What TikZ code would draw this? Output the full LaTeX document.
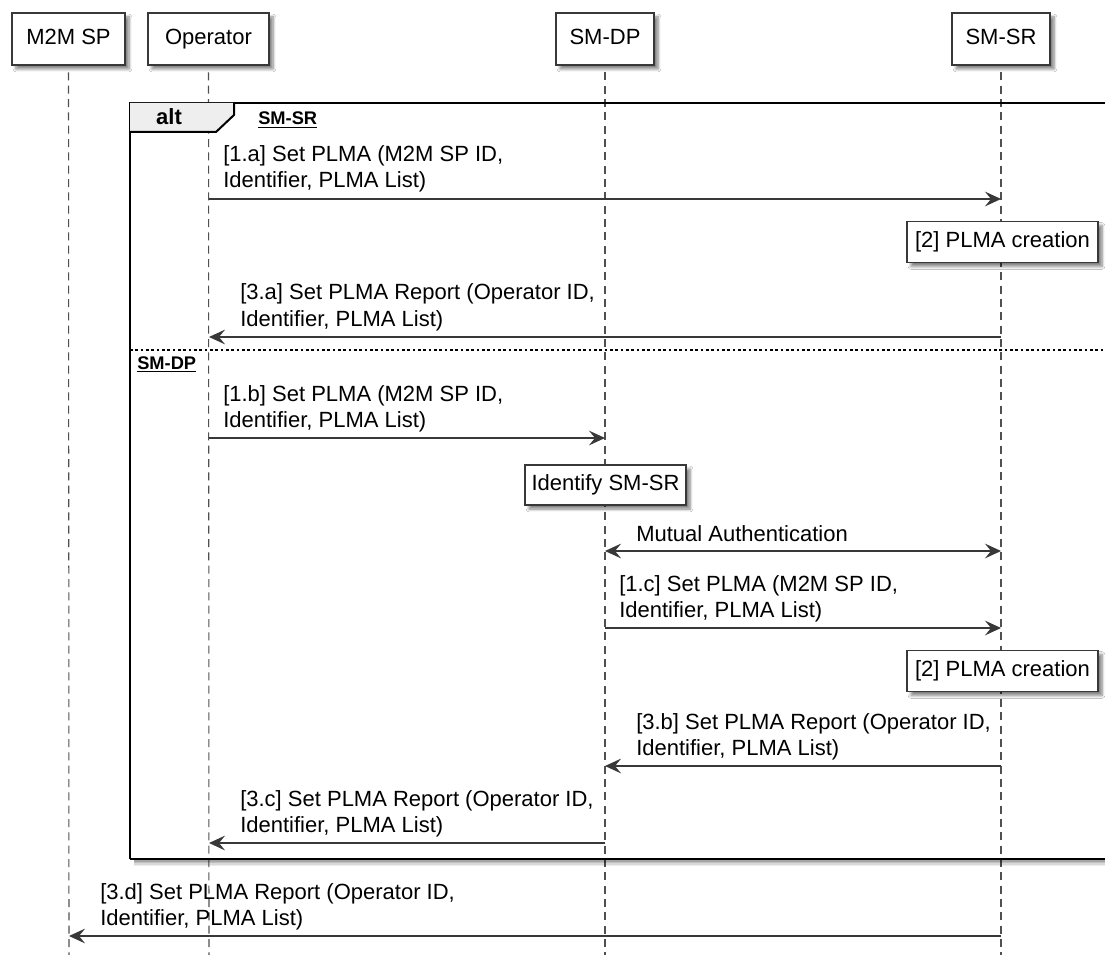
\documentclass[tikz,border=0pt]{standalone}
\usepackage{fontspec}
\setmainfont{Liberation Sans}
\usetikzlibrary{arrows.meta,shadows.blur}
\definecolor{linec}{HTML}{383838}
\definecolor{lifec}{HTML}{505050}
\definecolor{tabc}{HTML}{EEEEEE}
\tikzset{
  every node/.style={font=\fontsize{16.5}{19.5}\selectfont, inner sep=0pt},
  shadowed/.style={blur shadow={shadow xshift=3pt, shadow yshift=-3pt, shadow blur steps=6, shadow opacity=50}},
  partbox/.style={draw=linec, line width=1.1pt, fill=white, shadowed, minimum height=39pt, text height=11.8pt, text depth=3.6pt},
  notebox/.style={draw=linec, line width=0.9pt, fill=white, shadowed, text height=11.8pt, text depth=3.6pt},
  lifeline/.style={draw=lifec, line width=0.8pt, dash pattern=on 6pt off 4pt, shorten <=5pt},
  tipc/.tip={Stealth[length=12pt, width=11pt, inset=4.5pt, line join=miter]},
  msg/.style={draw=linec, line width=0.85pt, -tipc},
  bimsg/.style={draw=linec, line width=0.85pt, tipc-tipc},
  lbl/.style={anchor=base west, text=black},
  guard/.style={anchor=base west, font=\fontsize{13.7}{16}\selectfont\bfseries},
}
\begin{document}
\begin{tikzpicture}[x=0.75pt, y=-0.75pt]
\useasboundingbox (0,0) rectangle (1105,955);
\fill[white] (0,0) rectangle (1105,955);

% participants
\node[partbox, minimum width=84.75pt] (m2m) at (68.5,39) {M2M SP};
\node[partbox, minimum width=90.75pt] (op) at (208.5,39) {Operator};
\node[partbox, minimum width=73.5pt] (dp) at (605,39) {SM-DP};
\node[partbox, minimum width=73.5pt] (sr) at (1001,39) {SM-SR};

\coordinate (m2mEnd) at (69,955);
\coordinate (opEnd) at (209,955);
\coordinate (dpEnd) at (605,955);
\coordinate (srEnd) at (1001,955);
\draw[lifeline] (m2m.south) -- (m2mEnd);
\draw[lifeline] (op.south) -- (opEnd);
\draw[lifeline] (dp.south) -- (dpEnd);
\draw[lifeline] (sr.south) -- (srEnd);

% alt frame shadow
\foreach \d/\o in {2/0.35,3.5/0.25,5/0.15,6.5/0.07}{
  \draw[black, opacity=\o, line width=1.2pt] (134,859+\d) -- (1120,859+\d);
}
% alt frame
\draw[black, line width=2pt] (130,859) -- (130,103) -- (1120,103);
\draw[black, line width=2pt] (130,859) -- (1120,859);
\fill[tabc] (130,103) -- (234,103) -- (234,115) -- (216,132) -- (130,132) -- cycle;
\draw[black, line width=1.5pt] (234,103) -- (234,115) -- (216,132) -- (130,132);
\node[anchor=base, font=\fontsize{16.5}{19.5}\selectfont\bfseries] (alt) at (169,125) {alt};
\node[guard] (g1) at (258,125) {\underline{SM-SR}};
\coordinate (sepL) at (130,350);
\coordinate (sepR) at (1120,350);
\draw[black, line width=0.8pt, dash pattern=on 2pt off 2pt] (sepL) -- (sepR);
\node[guard] (g2) at (137,369) {\underline{SM-DP}};

% 1.a
\coordinate (opA) at (209,199);
\coordinate (srA) at (1001,199);
\node[lbl] (t1a1) at (223,162) {[1.a] Set PLMA (M2M SP ID,};
\node[lbl] (t1a2) at (223,188) {Identifier, PLMA List)};
\draw[msg] (opA) -- (srA);

% note 2
\node[notebox, minimum width=143.25pt, minimum height=30.75pt] (n2a) at (1002.5,242) {[2] PLMA creation};

% 3.a
\coordinate (srB) at (1001,337);
\coordinate (opB) at (209,337);
\node[lbl] (t3a1) at (240,300) {[3.a] Set PLMA Report (Operator ID,};
\node[lbl] (t3a2) at (240,326) {Identifier, PLMA List)};
\draw[msg] (srB) -- (opB);

% 1.b
\coordinate (opC) at (209,438);
\coordinate (dpC) at (605,438);
\node[lbl] (t1b1) at (223,401) {[1.b] Set PLMA (M2M SP ID,};
\node[lbl] (t1b2) at (223,427) {Identifier, PLMA List)};
\draw[msg] (opC) -- (dpC);

% identify
\node[notebox, minimum width=120.75pt, minimum height=30pt] (nid) at (605.5,485) {Identify SM-SR};

% mutual
\coordinate (dpD) at (605,551);
\coordinate (srD) at (1001,551);
\node[lbl] (tmu) at (636,541) {Mutual Authentication};
\draw[bimsg] (dpD) -- (srD);

% 1.c
\coordinate (dpE) at (605,628);
\coordinate (srE) at (1001,628);
\node[lbl] (t1c1) at (619,591) {[1.c] Set PLMA (M2M SP ID,};
\node[lbl] (t1c2) at (619,617) {Identifier, PLMA List)};
\draw[msg] (dpE) -- (srE);

% note 2 again
\node[notebox, minimum width=143.25pt, minimum height=30.75pt] (n2b) at (1002.5,671) {[2] PLMA creation};

% 3.b
\coordinate (srF) at (1001,766);
\coordinate (dpF) at (605,766);
\node[lbl] (t3b1) at (636,729) {[3.b] Set PLMA Report (Operator ID,};
\node[lbl] (t3b2) at (636,755) {Identifier, PLMA List)};
\draw[msg] (srF) -- (dpF);

% 3.c
\coordinate (dpG) at (605,843);
\coordinate (opG) at (209,843);
\node[lbl] (t3c1) at (240,806) {[3.c] Set PLMA Report (Operator ID,};
\node[lbl] (t3c2) at (240,832) {Identifier, PLMA List)};
\draw[msg] (dpG) -- (opG);

% 3.d
\coordinate (srH) at (1001,936);
\coordinate (m2mH) at (69,936);
\node[lbl] (t3d1) at (100,899) {[3.d] Set PLMA Report (Operator ID,};
\node[lbl] (t3d2) at (100,925) {Identifier, PLMA List)};
\draw[msg] (srH) -- (m2mH);
\end{tikzpicture}
\end{document}
